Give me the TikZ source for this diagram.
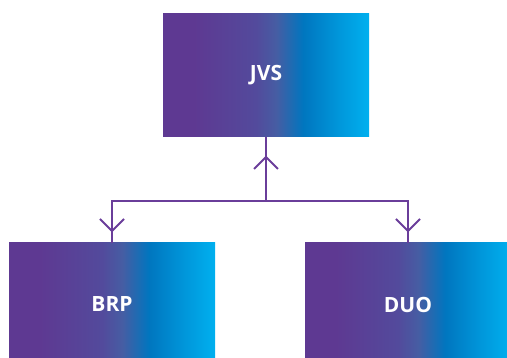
\documentclass[tikz,border=0pt]{standalone}
\usepackage{fontspec}
\setmainfont{Open Sans}
\definecolor{gA}{HTML}{5E3992}
\definecolor{gB}{HTML}{534A9C}
\definecolor{gC}{HTML}{465DA3}
\definecolor{gD}{HTML}{0076BF}
\definecolor{gE}{HTML}{0096DA}
\definecolor{gF}{HTML}{00B0EF}
\definecolor{linecol}{HTML}{6A3D9A}
\pgfdeclarehorizontalshading{boxgrad}{100bp}{color(0bp)=(gA); color(25bp)=(gA); color(32.5bp)=(gA); color(47.5bp)=(gB); color(52.5bp)=(gC); color(59bp)=(gD); color(67.5bp)=(gE); color(75bp)=(gF); color(100bp)=(gF)}
\begin{document}
\begin{tikzpicture}[x=1pt,y=-1pt,
  box/.style={minimum width=206pt, minimum height=123pt, inner sep=0pt, shading=boxgrad, text=white, font=\fontsize{21}{24}\selectfont\bfseries},
  conn/.style={draw=linecol, line width=2pt},
  chev/.style={draw=linecol, line width=2pt}]
\useasboundingbox (0,0) rectangle (507,358);
\node[box] (jvs) at (266,75.5) {JVS};
\node[box] (brp) at (112,304.5) {BRP};
\node[box] (duo) at (408,304.5) {DUO};
\coordinate (hub) at (266,201);
\draw[conn] (jvs.south) -- (hub);
\draw[conn] (hub) -| (brp.north);
\draw[conn] (hub) -| (duo.north);
\coordinate (tipU) at (266,157);
\coordinate (tipB) at (112,231);
\coordinate (tipD) at (408,231);
\draw[chev] (tipU) ++(-12,12) -- (tipU) -- ++(12,12);
\draw[chev] (tipB) ++(-12,-12) -- (tipB) -- ++(12,-12);
\draw[chev] (tipD) ++(-12,-12) -- (tipD) -- ++(12,-12);
\end{tikzpicture}
\end{document}
